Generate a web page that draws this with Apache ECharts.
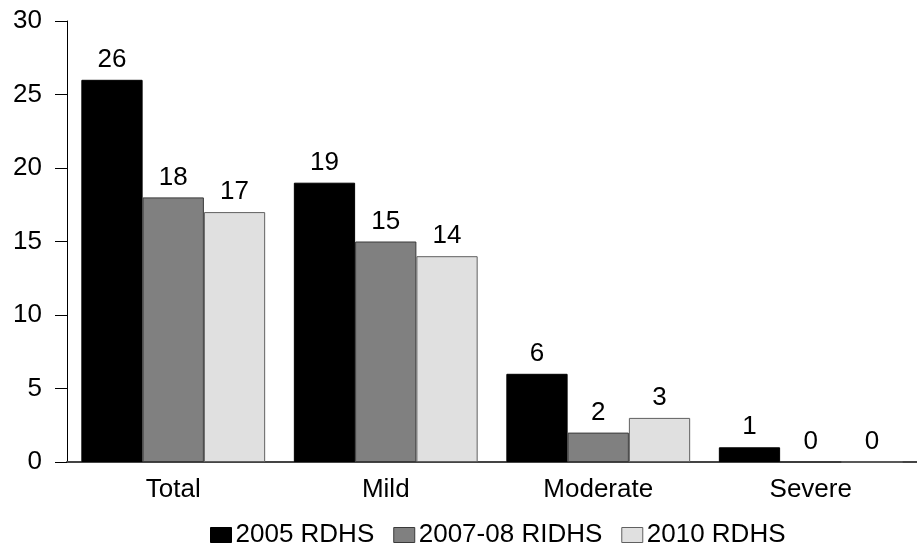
<!DOCTYPE html>
<html><head><meta charset="utf-8">
<script src="https://cdn.jsdelivr.net/npm/echarts@6/dist/echarts.min.js"></script>
<style>html,body{margin:0;padding:0;background:#fff}#c{width:917px;height:546px}</style>
</head><body><div id="c"></div>
<script>
const categories = ['Total', 'Mild', 'Moderate', 'Severe'];
const s2005 = [26, 19, 6, 1];
const s2007 = [18, 15, 2, 0];
const s2010 = [17, 14, 3, 0];
const seriesNames = ['2005 RDHS', '2007-08 RIDHS', '2010 RDHS'];
const yTicks = [0, 5, 10, 15, 20, 25, 30];

const font = 'Liberation Sans, Arial, sans-serif';
const colors = ['#000000', '#808080', '#e0e0e0'];
const borders = ['#000000', '#3a3a3a', '#606060'];
const data = [s2005, s2007, s2010];

const chart = echarts.init(document.getElementById('c'));
chart.setOption({
  animation: false,
  grid: { left: 67, right: -14, top: 21, bottom: 84, containLabel: false },
  legend: {
    top: 522, left: 210, padding: 0,
    itemWidth: 21, itemHeight: 15, itemGap: 19,
    icon: 'rect',
    itemStyle: { borderWidth: 1 },
    textStyle: { fontFamily: font, fontSize: 26, lineHeight: 26, color: '#000', padding: [0, 0, 0, -1] },
    data: seriesNames
  },
  xAxis: {
    type: 'category', data: categories,
    axisLine: { lineStyle: { color: '#444', width: 2 } },
    axisTick: { show: false },
    axisLabel: { fontFamily: font, fontSize: 26, lineHeight: 26, color: '#000', margin: 15 }
  },
  yAxis: {
    type: 'value', min: yTicks[0], max: yTicks[yTicks.length - 1], interval: 5,
    axisLine: { show: true, lineStyle: { color: '#000', width: 1 } },
    axisTick: { show: true, length: 12, lineStyle: { color: '#000' } },
    splitLine: { show: false },
    axisLabel: { fontFamily: font, fontSize: 26, lineHeight: 26, color: '#000', margin: 25 }
  },
  series: data.map((d, i) => ({
    name: seriesNames[i], type: 'bar', data: d,
    barGap: '0%', barCategoryGap: '13.5%',
    itemStyle: { color: colors[i], borderColor: borders[i], borderWidth: 1 },
    label: { show: true, position: 'top', distance: 7, fontFamily: font, fontSize: 26, lineHeight: 26, color: '#000' }
  }))
});
</script></body></html>
